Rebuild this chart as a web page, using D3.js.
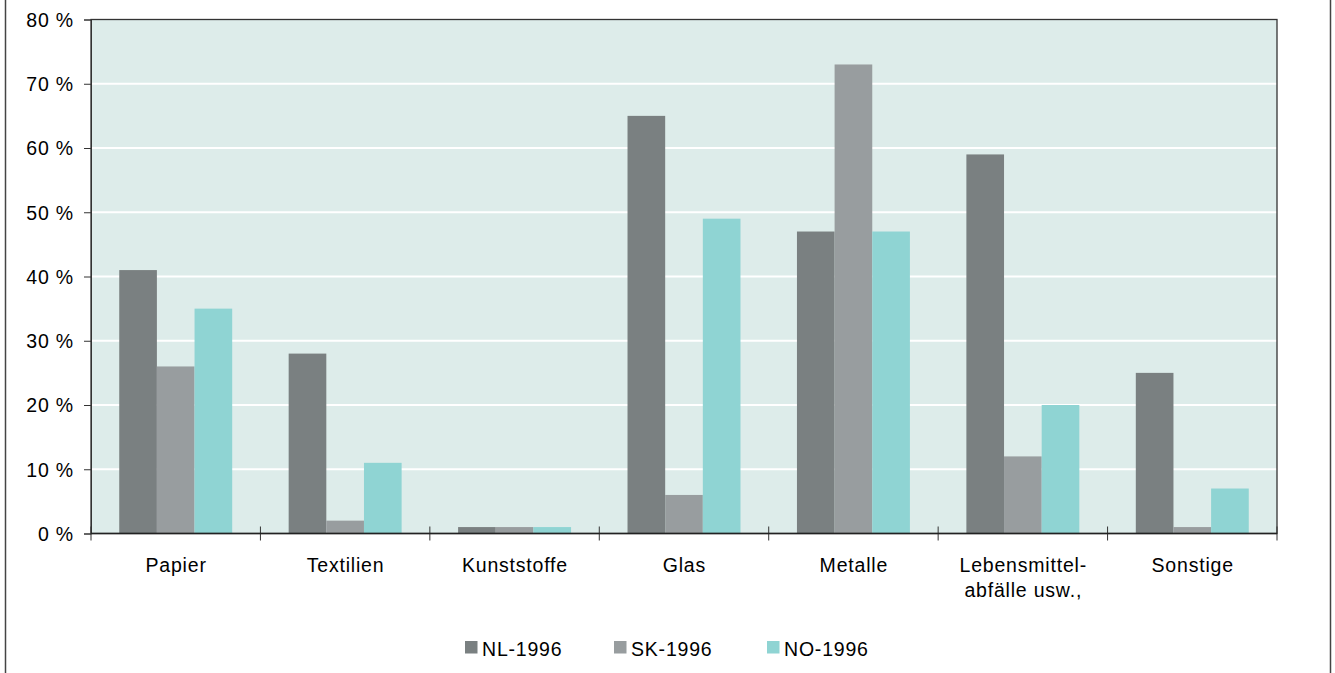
<!DOCTYPE html>
<html><head><meta charset="utf-8">
<script src="https://cdn.jsdelivr.net/npm/d3@7"></script>
<style>body{margin:0;background:#fff}svg{display:block}text{font-family:"Liberation Sans",Arial,sans-serif;fill:#000;letter-spacing:0.8px}</style>
</head><body>
<svg id="c" width="1335" height="673"></svg>
<script>
const categories = [["Papier"],["Textilien"],["Kunststoffe"],["Glas"],["Metalle"],["Lebensmittel-","abfälle usw.,"],["Sonstige"]];
const seriesNames = ["NL-1996","SK-1996","NO-1996"];
const nl = [41,28,1,65,47,59,25];
const sk = [26,2,1,6,73,12,1];
const no = [35,11,1,49,47,20,7];
const yTicks = [0,10,20,30,40,50,60,70,80];
const colors = ["#7a8081","#989d9f","#8fd4d3"];
const values = [nl, sk, no];

const svg = d3.select("#c");
const L = 91, R = 1277, T = 19.5, B = 533.5;
const FS = "19.5px";
// outer frame
svg.append("line").attr("x1",5.5).attr("x2",5.5).attr("y1",0).attr("y2",673).attr("stroke","#444").attr("stroke-width",1.5);
svg.append("line").attr("x1",1330.5).attr("x2",1330.5).attr("y1",0).attr("y2",673).attr("stroke","#444").attr("stroke-width",1.5);

const x0 = d3.scaleBand().domain(d3.range(categories.length)).range([L,R]).padding(0);
const x1 = d3.scaleBand().domain(d3.range(seriesNames.length)).range([x0.bandwidth()/6, x0.bandwidth()*5/6]).padding(0);
const y = d3.scaleLinear().domain([0,80]).range([B,T]);

svg.append("rect").attr("x",L).attr("y",T).attr("width",R-L).attr("height",B-T).attr("fill","#ddecea");
// gridlines
svg.append("g").selectAll("line").data(yTicks.filter(t=>t>0&&t<80)).join("line")
  .attr("x1",L).attr("x2",R).attr("y1",d=>y(d)).attr("y2",d=>y(d)).attr("stroke","#fff").attr("stroke-width",2);

// bars
values.forEach((vals,si)=>{
  svg.append("g").selectAll("rect").data(vals).join("rect")
    .attr("x",(d,i)=>x0(i)+x1(si)).attr("width",x1.bandwidth())
    .attr("y",d=>y(d)).attr("height",d=>B-y(d)).attr("fill",colors[si]);
});

// frame of plot
svg.append("rect").attr("x",L).attr("y",T).attr("width",R-L).attr("height",B-T).attr("fill","none").attr("stroke","#333").attr("stroke-width",1.3);

// y axis
const yAxis = d3.axisLeft(y).tickValues(yTicks).tickSize(7).tickPadding(0).tickFormat(d=>d+" %");
const gy = svg.append("g").attr("transform",`translate(${L},0)`).call(yAxis);
gy.select(".domain").attr("stroke","#333");
gy.selectAll(".tick line").attr("stroke","#333");
gy.selectAll("text").style("font-size",FS).attr("fill","#000").attr("x",-17).attr("dy",null).attr("y",6.8);

// x axis ticks at boundaries
const bounds = d3.range(categories.length+1).map(i=> i<categories.length ? x0(i) : R);
svg.append("g").selectAll("line").data(bounds).join("line")
  .attr("x1",d=>d).attr("x2",d=>d).attr("y1",B-7).attr("y2",B+7).attr("stroke","#333").attr("stroke-width",1);
svg.append("line").attr("x1",L).attr("x2",R).attr("y1",B).attr("y2",B).attr("stroke","#222").attr("stroke-width",1.5);

// x labels
const xl = svg.append("g").selectAll("text").data(categories).join("text")
  .attr("x",(d,i)=>x0(i)+x0.bandwidth()/2+0.4).attr("y",571.8).attr("text-anchor","middle").style("font-size",FS);
xl.each(function(d){
  const t=d3.select(this);
  d.forEach((line,k)=>t.append("tspan").attr("x",t.attr("x")).attr("dy",k===0?0:25).text(line));
});

// legend
const legX = [465, 614, 767];
seriesNames.forEach((n,i)=>{
  svg.append("rect").attr("x",legX[i]).attr("y",641).attr("width",12.5).attr("height",12.5).attr("fill",colors[i]);
  svg.append("text").attr("x",legX[i]+17).attr("y",655.8).style("font-size",FS).text(n);
});
</script>
</body></html>
